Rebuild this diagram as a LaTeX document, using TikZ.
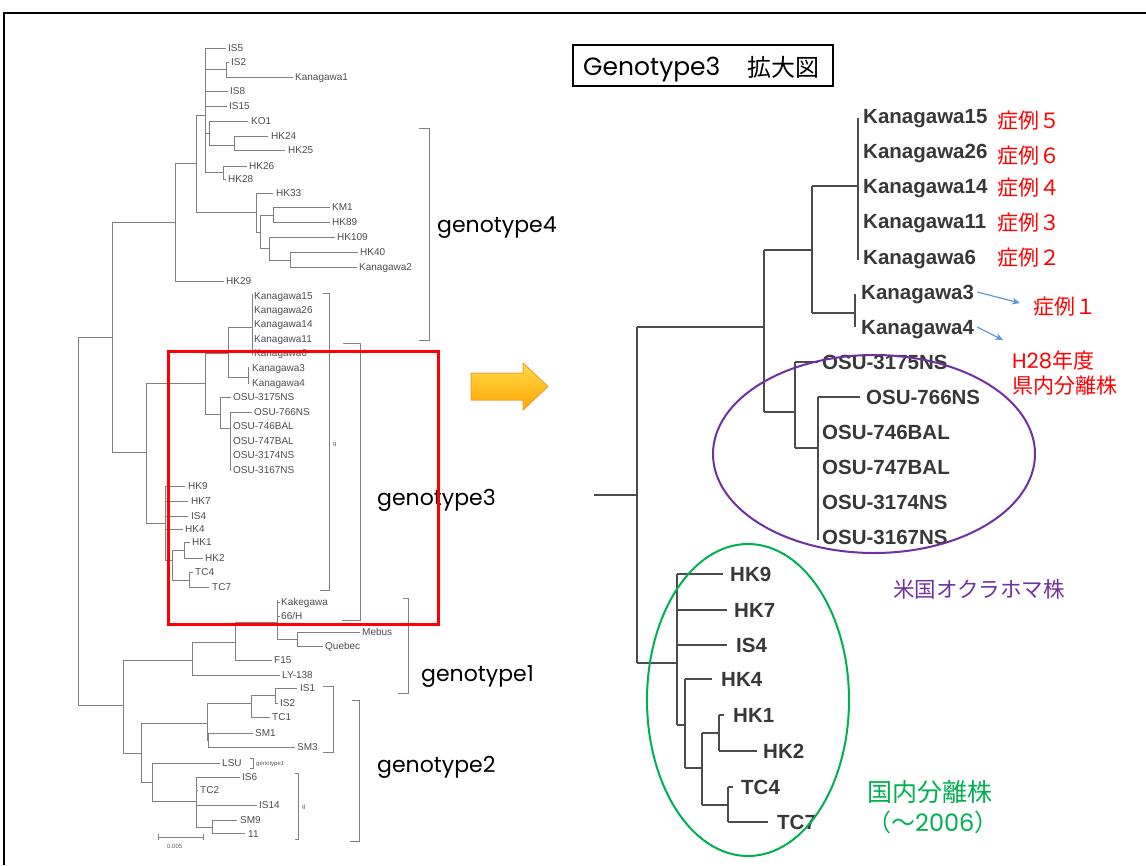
\documentclass[tikz,border=0pt]{standalone}
\usepackage{fontspec}
\setmainfont{Liberation Sans}
\newfontfamily\arialf{Liberation Sans}
\newfontfamily\popf{Poppins}
\newfontfamily\cjkf{Noto Sans CJK JP}
\usetikzlibrary{arrows.meta}
\definecolor{kred}{HTML}{FF0000}
\definecolor{kpurple}{HTML}{7030A0}
\definecolor{kgreen}{HTML}{00B050}
\definecolor{kblue}{HTML}{5B9BD5}
\definecolor{arrtop}{HTML}{FFD84A}
\definecolor{arrbot}{HTML}{FFA800}
\definecolor{arrdraw}{HTML}{F0A030}
\tikzset{
  lt/.style={draw=black!50, line width=0.9pt},
  ll/.style={anchor=west, inner sep=0pt, text=black!70, font=\arialf\fontsize{10}{12}\selectfont, text height=7.2pt, text depth=0pt},
  tiny/.style={anchor=west, inner sep=0pt, text=black!65, font=\arialf\fontsize{6}{7}\selectfont, text height=4.3pt, text depth=0pt},
  rt/.style={draw=black!70, line width=2pt},
  rl/.style={anchor=west, inner sep=0pt, text=black!78, font=\arialf\bfseries\fontsize{20.5}{24}\selectfont, text height=14.7pt, text depth=0pt},
  gl/.style={anchor=west, inner sep=0pt, text=black, font=\popf\fontsize{22}{26}\selectfont, text height=11pt, text depth=0pt},
  jl/.style={anchor=west, inner sep=0pt, font=\cjkf\fontsize{21}{25}\selectfont, text height=16pt, text depth=0pt},
  bluearr/.style={draw=kblue, line width=1.2pt, -{Stealth[length=8pt,width=7pt]}}
}
\begin{document}
\begin{tikzpicture}[x=1pt,y=-1pt]
\useasboundingbox (0,0) rectangle (1146,865);
% frame
\draw[line width=1.2pt] (4,865) -- (4,13) -- (1146,13);

% ================= LEFT TREE =================
% root
\draw[lt] (78,337) -- (78,705) (78,337) -- (112,337) (78,705) -- (123,705);
% node P
\draw[lt] (112,222) -- (112,452) (112,222) -- (175,222) (112,452) -- (146,452);
% genotype 4
\draw[lt] (175,163) -- (175,281) (175,163) -- (196,163) (175,281) -- (224,281);
\draw[lt] (196,115) -- (196,212) (196,115) -- (205,115) (196,212) -- (256,212);
\draw[lt] (205,48) -- (205,172) (205,48) -- (226,48) (205,69) -- (226,69)
  (226,62) -- (226,77) (226,62) -- (229,62) (226,77) -- (293,77)
  (205,91) -- (228,91) (205,106) -- (227,106);
\draw[lt] (205,133) -- (209,133) (209,121) -- (209,145) (209,121) -- (248,121)
  (209,145) -- (234,145) (234,136) -- (234,150) (234,136) -- (268,136) (234,150) -- (285,150);
\draw[lt] (205,172) -- (223,172) (223,166) -- (223,179) (223,166) -- (247,166) (223,179) -- (226,179);
\draw[lt] (256,193) -- (256,232) (256,193) -- (273,193) (256,232) -- (260,232)
  (260,215) -- (260,248) (260,215) -- (273,215)
  (273,207) -- (273,222) (273,207) -- (330,207) (273,222) -- (330,222)
  (260,248) -- (269,248) (269,237) -- (269,260) (269,237) -- (335,237) (269,260) -- (290,260)
  (290,252) -- (290,267) (290,252) -- (358,252) (290,267) -- (357,267);
\node[ll] (l-is5) at (228,48) {IS5};
\node[ll] (l-is2) at (231,62) {IS2};
\node[ll] (l-kan1) at (295,77) {Kanagawa1};
\node[ll] (l-is8) at (230,91) {IS8};
\node[ll] (l-is15) at (229,106) {IS15};
\node[ll] (l-ko1) at (251,121) {KO1};
\node[ll] (l-hk24) at (271,136) {HK24};
\node[ll] (l-hk25) at (288,150) {HK25};
\node[ll] (l-hk26) at (249,166) {HK26};
\node[ll] (l-hk28) at (228,179) {HK28};
\node[ll] (l-hk33) at (276,193) {HK33};
\node[ll] (l-km1) at (332,207) {KM1};
\node[ll] (l-hk89) at (332,222) {HK89};
\node[ll] (l-hk109) at (337,237) {HK109};
\node[ll] (l-hk40) at (360,252) {HK40};
\node[ll] (l-kan2) at (359,267) {Kanagawa2};
\node[ll] (l-hk29) at (226,281) {HK29};
% genotype 3
\draw[lt] (146,383) -- (146,523) (146,383) -- (205,383) (146,523) -- (165,523);
\draw[lt] (205,353) -- (205,414) (205,353) -- (228,353) (205,414) -- (220,414);
\draw[lt] (228,327) -- (228,377) (228,327) -- (252,327) (228,377) -- (248,377);
\draw[lt] (252,294) -- (252,355) (248,367) -- (248,384);
\draw[lt] (220,397) -- (220,428) (220,397) -- (231,397) (220,428) -- (230,428)
  (230,412) -- (230,471) (230,412) -- (252,412);
\node[ll] (l-k15) at (254,296) {Kanagawa15};
\node[ll] (l-k26) at (254,310) {Kanagawa26};
\node[ll] (l-k14) at (254,324) {Kanagawa14};
\node[ll] (l-k11) at (254,339) {Kanagawa11};
\node[ll] (l-k6) at (254,353) {Kanagawa6};
\node[ll] (l-k3) at (252,368) {Kanagawa3};
\node[ll] (l-k4) at (252,383) {Kanagawa4};
\node[ll] (l-o1) at (233,397) {OSU-3175NS};
\node[ll] (l-o2) at (254,412) {OSU-766NS};
\node[ll] (l-o3) at (233,426) {OSU-746BAL};
\node[ll] (l-o4) at (233,441) {OSU-747BAL};
\node[ll] (l-o5) at (233,455) {OSU-3174NS};
\node[ll] (l-o6) at (233,470) {OSU-3167NS};
\draw[lt] (165,486) -- (165,560) (165,486) -- (185,486) (165,501) -- (188,501)
  (165,516) -- (188,516) (165,529) -- (183,529) (165,560) -- (172,560)
  (172,550) -- (172,580) (172,550) -- (184,550)
  (184,542) -- (184,558) (184,542) -- (190,542) (184,558) -- (203,558)
  (172,580) -- (189,580) (189,572) -- (189,587) (189,572) -- (193,572) (189,587) -- (209,587);
\node[ll] (l-hk9) at (188,486) {HK9};
\node[ll] (l-hk7) at (191,501) {HK7};
\node[ll] (l-is4) at (191,516) {IS4};
\node[ll] (l-hk4) at (185,529) {HK4};
\node[ll] (l-hk1) at (192,542) {HK1};
\node[ll] (l-hk2) at (205,558) {HK2};
\node[ll] (l-tc4) at (195,572) {TC4};
\node[ll] (l-tc7) at (212,587) {TC7};
% genotype 1
\draw[lt] (123,660) -- (123,753) (123,660) -- (192,660) (123,753) -- (141,753);
\draw[lt] (192,642) -- (192,675) (192,642) -- (235,642) (192,675) -- (280,675);
\draw[lt] (235,622) -- (235,660) (235,622) -- (277,622) (235,660) -- (272,660);
\draw[lt] (277,600) -- (277,639) (277,602) -- (280,602) (277,616) -- (280,616) (277,639) -- (297,639)
  (297,632) -- (297,646) (297,632) -- (360,632) (297,646) -- (323,646);
\node[ll] (l-kak) at (281,602) {Kakegawa};
\node[ll] (l-66h) at (281,616) {66/H};
\node[ll] (l-meb) at (362,632) {Mebus};
\node[ll] (l-que) at (325,646) {Quebec};
\node[ll] (l-f15) at (274,660) {F15};
\node[ll] (l-ly) at (282,675) {LY-138};
% genotype 2
\draw[lt] (141,723) -- (141,782) (141,723) -- (207,723) (141,782) -- (152,782);
\draw[lt] (207,703) -- (207,740) (207,703) -- (251,703) (207,740) -- (208,740)
  (208,733) -- (208,747) (208,733) -- (253,733) (208,747) -- (295,747)
  (251,695) -- (251,717) (251,695) -- (275,695) (275,688) -- (275,703)
  (275,688) -- (297,688) (275,703) -- (278,703) (251,717) -- (270,717);
\draw[lt] (152,763) -- (152,801) (152,763) -- (220,763) (152,801) -- (196,801)
  (196,777) -- (196,827) (196,777) -- (240,777) (196,790) -- (198,790)
  (196,805) -- (257,805) (196,827) -- (212,827)
  (212,820) -- (212,833) (212,820) -- (237,820) (212,833) -- (245,833);
\node[ll] (l-is1) at (300,688) {IS1};
\node[ll] (l-is2b) at (280,703) {IS2};
\node[ll] (l-tc1) at (272,717) {TC1};
\node[ll] (l-sm1) at (255,733) {SM1};
\node[ll] (l-sm3) at (297,747) {SM3};
\node[ll] (l-lsu) at (222,763) {LSU};
\draw[lt] (250,758) -- (253,758) -- (253,768) -- (250,768);
\node[tiny] (l-gt1) at (256,763) {genotype1};
\node[ll] (l-is6) at (242,777) {IS6};
\node[ll] (l-tc2) at (200,790) {TC2};
\node[ll] (l-is14) at (259,805) {IS14};
\node[ll] (l-sm9) at (240,820) {SM9};
\node[ll] (l-11) at (248,834) {11};
% scale bar
\draw[lt] (158,837) -- (203,837) (158,834) -- (158,840) (203,834) -- (203,840);
\node[tiny] (l-scale) at (167,846) {0.005};
% brackets
\draw[lt] (419,128) -- (429,128) -- (429,340) -- (419,340);
\draw[lt] (323,293) -- (329,293) -- (329,590) -- (320,590);
\node[tiny] (l-g3) at (333,443) {g};
\draw[lt] (343,343) -- (360,343) -- (360,620) -- (342,620);
\draw[lt] (403,598) -- (408,598) -- (408,693) -- (398,693);
\draw[lt] (323,686) -- (333,686) -- (333,752) -- (323,752);
\draw[lt] (352,700) -- (359,700) -- (359,841) -- (350,841);
\draw[lt] (295,773) -- (298,773) -- (298,839) -- (295,839);
\node[tiny] (l-g2) at (302,806) {g};
% genotype labels
\node[gl] (g4) at (437,227) {genotype4};
\node[gl] (g3) at (377,500) {genotype3};
\node[gl] (g1) at (421,676) {genotype1};
\node[gl] (g2) at (377,767) {genotype2};
% red box
\draw[draw=kred, line width=3pt] (168,351) rectangle (438,624);

% orange arrow
\draw[arrdraw, line width=1pt, top color=arrtop, bottom color=arrbot]
  (471,373) -- (523,373) -- (523,363) -- (548,386.5) -- (523,410) -- (523,400) -- (471,400) -- cycle;

% ================= RIGHT =================
\draw[line width=1.2pt] (573,45) rectangle (833,86);
\node[anchor=west, inner sep=0pt, font=\popf\fontsize{25}{30}\selectfont, text height=17.5pt, text depth=0pt] (title1) at (583,67) {Genotype3};
\node[jl, font=\cjkf\fontsize{24}{28}\selectfont, text height=18pt] (title2) at (747,67) {拡大図};

% right tree
\draw[rt] (594,495) -- (637,495) (637,327) -- (637,663) (637,327) -- (764,327)
  (764,250) -- (764,412) (764,250) -- (812,250)
  (812,186) -- (812,313) (812,186) -- (858,186) (858,118) -- (858,260)
  (812,313) -- (855,313) (855,294) -- (855,327)
  (764,412) -- (795,412) (795,362) -- (795,448) (795,362) -- (818,362)
  (795,448) -- (818,448) (818,397) -- (818,540) (818,397) -- (860,397);
\draw[rt] (637,663) -- (677,663) (677,574) -- (677,725) (677,574) -- (723,574)
  (677,610) -- (727,610) (677,645) -- (727,645) (677,725) -- (685,725)
  (685,679) -- (685,768) (685,679) -- (712,679) (685,768) -- (702,768)
  (702,733) -- (702,805) (702,733) -- (719,733)
  (719,715) -- (719,751) (719,715) -- (724,715) (719,751) -- (757,751)
  (702,805) -- (728,805) (728,787) -- (728,822) (728,787) -- (733,787) (728,822) -- (768,822);
\node[rl] (r-k15) at (863,116) {Kanagawa15};
\node[rl] (r-k26) at (863,151) {Kanagawa26};
\node[rl] (r-k14) at (863,186) {Kanagawa14};
\node[rl] (r-k11) at (863,221) {Kanagawa11};
\node[rl] (r-k6) at (863,257) {Kanagawa6};
\node[rl] (r-k3) at (861,292) {Kanagawa3};
\node[rl] (r-k4) at (861,327) {Kanagawa4};
\node[rl] (r-o1) at (822,362) {OSU-3175NS};
\node[rl] (r-o2) at (866,397) {OSU-766NS};
\node[rl] (r-o3) at (822,432) {OSU-746BAL};
\node[rl] (r-o4) at (822,467) {OSU-747BAL};
\node[rl] (r-o5) at (822,502) {OSU-3174NS};
\node[rl] (r-o6) at (822,537) {OSU-3167NS};
\node[rl] (r-hk9) at (730,574) {HK9};
\node[rl] (r-hk7) at (734,610) {HK7};
\node[rl] (r-is4) at (736,645) {IS4};
\node[rl] (r-hk4) at (721,679) {HK4};
\node[rl] (r-hk1) at (733,715) {HK1};
\node[rl] (r-hk2) at (763,751) {HK2};
\node[rl] (r-tc4) at (741,787) {TC4};
\node[rl] (r-tc7) at (777,822) {TC7};

% case labels
\node[jl, text=kred] (c5) at (997,120) {症例５};
\node[jl, text=kred] (c6) at (997,155) {症例６};
\node[jl, text=kred] (c4) at (997,187) {症例４};
\node[jl, text=kred] (c3) at (997,222) {症例３};
\node[jl, text=kred] (c2) at (997,257) {症例２};
\node[jl, text=kred] (c1) at (1033,306) {症例１};
\node[jl, text=kred] (h28) at (1012,360) {{\popf H28}年度};
\node[jl, text=kred] (ken) at (1012,385) {県内分離株};
\coordinate (a1end) at (1020,303);
\coordinate (a2end) at (1003,340);
\draw[bluearr] ([xshift=3pt]r-k3.east) -- (a1end);
\draw[bluearr] ([xshift=3pt]r-k4.east) -- (a2end);

% ellipses
\draw[kpurple, line width=2pt] (874,454) ellipse [x radius=161pt, y radius=99pt];
\draw[kgreen, line width=2pt] (748,700) ellipse [x radius=101pt, y radius=156pt];
\node[jl, text=kpurple, font=\cjkf\fontsize{21.5}{25}\selectfont] (usa) at (893,589) {米国オクラホマ株};
\node[jl, text=kgreen, font=\cjkf\fontsize{25}{30}\selectfont, text height=19pt] (dom) at (867,792) {国内分離株};
\node[jl, text=kgreen, font=\cjkf\fontsize{24}{28}\selectfont, text height=18pt] (dom2) at (867,822) {（～{\popf 2006}）};
\end{tikzpicture}
\end{document}
